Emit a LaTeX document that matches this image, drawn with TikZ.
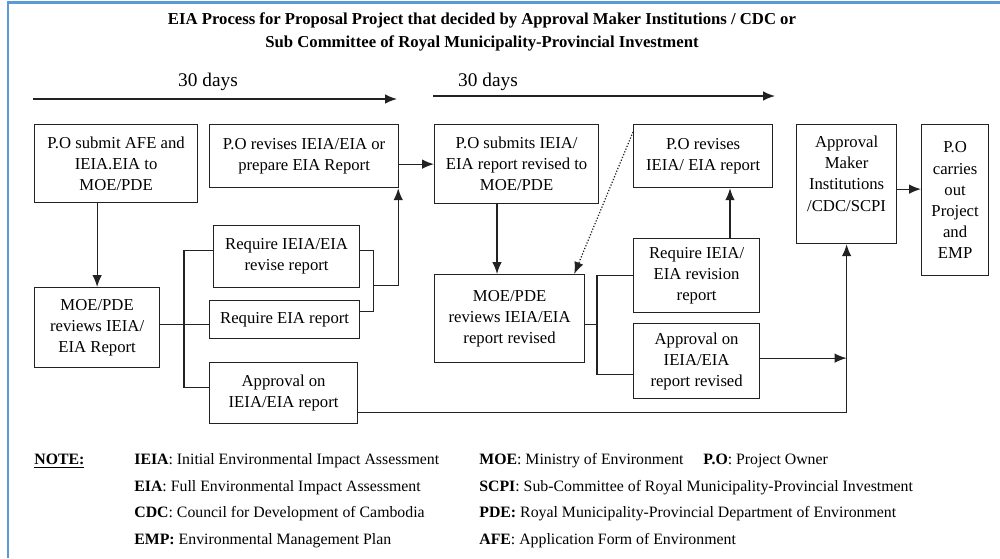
\documentclass[tikz,border=0pt]{standalone}
\usepackage{fontspec}
\setmainfont{Liberation Serif}
\usetikzlibrary{positioning,arrows.meta,calc}
\definecolor{clinea}{HTML}{222222}
\definecolor{cmarco}{HTML}{5B9BD5}
\tikzset{
  caja/.style={rectangle, draw=clinea, line width=0.7pt, align=center,
    anchor=north west, inner sep=1pt, font=\fontsize{9.5}{12}\selectfont},
  flecha/.style={-{Latex[length=2.4mm,width=1.9mm]}, line width=0.7pt, draw=clinea},
  linea/.style={line width=0.7pt, draw=clinea},
  nota/.style={anchor=west, inner sep=0pt, font=\fontsize{9}{11}\selectfont},
  dias/.style={font=\fontsize{11}{13}\selectfont},
}

\begin{document}
\begin{tikzpicture}
  \useasboundingbox (0,0) rectangle (20,-11.16);
  \draw[cmarco, line width=1.2pt] (0.16,-11.16) -- (0.16,-0.05) -- (20,-0.05);

  \node[font=\fontsize{9.5}{13}\selectfont\bfseries, align=center] (titulo) at (9.64,-0.64)
    {EIA Process for Proposal Project that decided by Approval Maker Institutions / CDC or\\
     Sub Committee of Royal Municipality-Provincial Investment};

  % plazos
  \node[dias] (d1) at (4.16,-1.64) {30 days};
  \node[dias] (d2) at (9.76,-1.64) {30 days};
  \coordinate (t1s) at (0.66,-1.98);
  \coordinate (t1e) at (7.94,-1.98);
  \coordinate (t2s) at (8.66,-1.92);
  \coordinate (t2e) at (15.5,-1.92);
  \draw[flecha] (t1s) -- (t1e);
  \draw[flecha] (t2s) -- (t2e);

  % fila superior
  \node[caja, minimum width=3.26cm, minimum height=1.56cm] (poafe) at (0.68,-2.48) {P.O submit AFE and\\IEIA.EIA to\\MOE/PDE};
  \node[caja, minimum width=3.78cm, minimum height=1.26cm] (porev) at (4.18,-2.48) {P.O revises IEIA/EIA or\\prepare EIA Report};
  \node[caja, minimum width=3.28cm, minimum height=1.58cm] (posub) at (8.68,-2.48) {P.O submits IEIA/\\EIA report revised to\\MOE/PDE};
  \node[caja, minimum width=2.78cm, minimum height=1.26cm] (porev2) at (12.66,-2.48) {P.O revises\\IEIA/ EIA report};
  \node[caja, minimum width=2.0cm, minimum height=2.38cm] (amk) at (15.92,-2.48) {Approval\\Maker\\Institutions\\/CDC/SCPI\\\mbox{}};
  \node[caja, minimum width=1.34cm, minimum height=3.02cm] (poemp) at (18.42,-2.48) {P.O\\carries\\out\\Project\\and\\EMP};

  % revisiones
  \node[caja, minimum width=2.5cm, minimum height=1.6cm] (moe) at (0.68,-5.74) {MOE/PDE\\reviews IEIA/\\EIA Report};
  \node[caja, minimum width=2.92cm, minimum height=1.24cm] (reqrev) at (4.26,-4.5) {Require IEIA/EIA\\revise report};
  \node[caja, minimum width=3.0cm, minimum height=0.76cm] (reqeia) at (4.18,-6.0) {Require EIA report};
  \node[caja, minimum width=2.96cm, minimum height=1.22cm] (aprob) at (4.18,-7.24) {Approval on\\IEIA/EIA report};
  \node[caja, minimum width=3.0cm, minimum height=1.76cm] (moe2) at (8.68,-5.48) {MOE/PDE\\reviews IEIA/EIA\\report revised};
  \node[caja, minimum width=2.52cm, minimum height=1.48cm] (reqrev2) at (12.66,-4.76) {Require IEIA/\\EIA revision\\report};
  \node[caja, minimum width=2.52cm, minimum height=1.5cm] (aprob2) at (12.66,-6.46) {Approval on\\IEIA/EIA\\report revised};

  % conexiones
  \draw[flecha] (moe.north |- poafe.south) -- (moe.north);
  \coordinate (me) at ($(moe.east)+(0,0.06)$);
  \draw[linea] (me) -- (me -| reqeia.west);
  \draw[linea] ($(reqrev.west)+(0,0.12)$) -- ++(-0.58,0) |- ($(aprob.west)+(0,0.12)$);
  \draw[linea] ($(reqrev.east)+(0,0.12)$) -- ++(0.26,0) coordinate (cr) |- ($(reqeia.east)+(0,0.16)$);
  \draw[flecha] ($(cr)!0.5!(cr |- reqeia.east)$) -| ($(porev.south east)+(-0.02,0)$);
  \draw[flecha] (posub.west -| porev.east) -- (posub.west);
  \coordinate (xbaja) at (9.94,0);
  \draw[flecha] (xbaja |- posub.south) -- (xbaja |- moe2.north);
  \draw[flecha, densely dotted] ($(porev2.north west)+(0,-0.16)$) -- ($(moe2.north east)+(-0.22,0)$);
  \draw[linea] ($(moe2.east)+(0,-0.12)$) -- ++(0.26,0);
  \draw[linea] (reqrev2.west) -- ++(-0.72,0) |- ($(aprob2.west)+(0,-0.27)$);
  \coordinate (xsube) at (14.6,0);
  \draw[flecha] (xsube |- reqrev2.north) -- (xsube |- porev2.south);
  \coordinate (ge) at ($(aprob2.east)+(0,0.06)$);
  \draw[flecha] (ge) -- (ge -| amk.south);
  \draw[flecha] ($(aprob.south east)+(0,0.24)$) -| (amk.south);
  \coordinate (ha) at ($(amk.east)+(0,-0.1)$);
  \draw[flecha] (ha) -- (ha -| poemp.west);

  % notas
  \node[nota] (nnota) at (0.68,-9.22) {\textbf{\underline{NOTE:}}};
  \node[nota] (nieia) at (2.68,-9.22) {\textbf{IEIA}: Initial Environmental Impact Assessment};
  \node[nota] (neia) at (2.68,-9.75) {\textbf{EIA}: Full Environmental Impact Assessment};
  \node[nota] (ncdc) at (2.68,-10.28) {\textbf{CDC}: Council for Development of Cambodia};
  \node[nota] (nemp) at (2.68,-10.81) {\textbf{EMP:} Environmental Management Plan};
  \node[nota] (nmoe) at (9.58,-9.22) {\textbf{MOE}: Ministry of Environment};
  \node[nota, right=0.38cm of nmoe] (npo) {\textbf{P.O}: Project Owner};
  \node[nota] (nscpi) at (9.58,-9.75) {\textbf{SCPI}: Sub-Committee of Royal Municipality-Provincial Investment};
  \node[nota] (npde) at (9.58,-10.28) {\textbf{PDE:} Royal Municipality-Provincial Department of Environment};
  \node[nota] (nafe) at (9.58,-10.81) {\textbf{AFE}: Application Form of Environment};
\end{tikzpicture}
\end{document}
